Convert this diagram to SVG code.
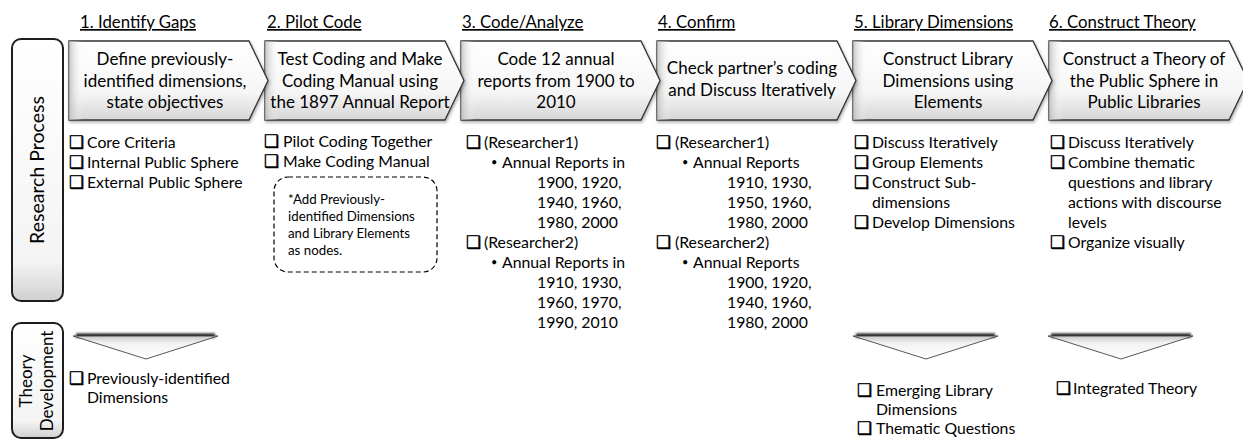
<svg xmlns="http://www.w3.org/2000/svg" xmlns:xlink="http://www.w3.org/1999/xlink" width="1243" height="440" viewBox="0 0 1243 440">
<style>
text{font-family:Lato,"Liberation Sans",sans-serif;fill:#000}
.hd{font-size:16.8px;text-decoration:underline}
.ch{font-size:17px;text-anchor:middle}
.li{font-size:15.8px}
.bu{font-size:11px}
.nt{font-size:13.3px}
.cb{font-family:"DejaVu Sans",sans-serif;font-size:17px;stroke:#000;stroke-width:0.5}
.lb{font-size:19.5px;text-anchor:middle}
.lb2{font-size:17px;text-anchor:middle}
.chv{fill:url(#gV);stroke:#333;stroke-width:1.3;filter:url(#sh)}
.chl{fill:url(#gL);stroke:none}
.tri{fill:url(#gT);stroke:#444;stroke-width:0.9}
.box{fill:url(#gB);stroke:#1e1e1e;stroke-width:2}
</style>
<defs>
<linearGradient id="gV" x1="0" y1="0" x2="0" y2="1">
<stop offset="0" stop-color="#ffffff"/><stop offset="0.65" stop-color="#f6f6f6"/><stop offset="1" stop-color="#d6d6d6"/>
</linearGradient>
<linearGradient id="gL" x1="0" y1="0" x2="1" y2="0">
<stop offset="0" stop-color="#b8b8b8" stop-opacity="0.8"/><stop offset="0.07" stop-color="#ffffff" stop-opacity="0"/>
</linearGradient>
<linearGradient id="gT" x1="0" y1="0" x2="0" y2="1">
<stop offset="0" stop-color="#c8c8c8"/><stop offset="0.3" stop-color="#f2f2f2"/><stop offset="1" stop-color="#ffffff"/>
</linearGradient>
<linearGradient id="gB" x1="0" y1="0" x2="0" y2="1">
<stop offset="0" stop-color="#ffffff"/><stop offset="0.85" stop-color="#f4f4f4"/><stop offset="1" stop-color="#d0d0d0"/>
</linearGradient>
<filter id="sh" x="-5%" y="-10%" width="115%" height="130%">
<feDropShadow dx="1" dy="2" stdDeviation="1.5" flood-color="#000" flood-opacity="0.3"/>
</filter>
<filter id="bl" x="-10%" y="-100%" width="120%" height="300%">
<feGaussianBlur stdDeviation="1.3"/>
</filter>
<path id="chev" d="M0,0 H180 L199,39.5 L180,79 H0 Z"/>
<path id="triS" d="M0,0 H145 L73,23 Z"/>
</defs>

<g id="label-research-process">
<rect class="box" x="12" y="39" width="51" height="262" rx="9"/>
<text class="lb" transform="translate(44,170) rotate(-90)">Research Process</text>
</g>
<g id="label-theory-development">
<rect class="box" x="12" y="323" width="51" height="115" rx="9"/>
<text class="lb2" transform="translate(32,381) rotate(-90)">Theory</text>
<text class="lb2" transform="translate(53,381) rotate(-90)">Development</text>
</g>

<g id="step6">
<text class="hd" x="1049" y="28">6. Construct Theory</text>
<use href="#chev" class="chv" x="1049" y="41"/>
<use href="#chev" class="chl" x="1049" y="41"/>
<text class="ch" x="1144" y="65">Construct a Theory of</text>
<text class="ch" x="1144" y="86.5">the Public Sphere in</text>
<text class="ch" x="1144" y="108">Public Libraries</text>
<text class="cb" x="1050" y="148">❑</text><text class="li" x="1068" y="148">Discuss Iteratively</text>
<text class="cb" x="1050" y="168">❑</text><text class="li" x="1068" y="168">Combine thematic</text>
<text class="li" x="1068" y="188">questions and library</text>
<text class="li" x="1068" y="208">actions with discourse</text>
<text class="li" x="1068" y="228">levels</text>
<text class="cb" x="1050" y="248">❑</text><text class="li" x="1068" y="248">Organize visually</text>
</g>

<g id="step5">
<text class="hd" x="854" y="28">5. Library Dimensions</text>
<use href="#chev" class="chv" x="853" y="41"/>
<use href="#chev" class="chl" x="853" y="41"/>
<text class="ch" x="948" y="65">Construct Library</text>
<text class="ch" x="948" y="86.5">Dimensions using</text>
<text class="ch" x="948" y="108">Elements</text>
<text class="cb" x="854" y="148">❑</text><text class="li" x="872" y="148">Discuss Iteratively</text>
<text class="cb" x="854" y="168">❑</text><text class="li" x="872" y="168">Group Elements</text>
<text class="cb" x="854" y="188">❑</text><text class="li" x="872" y="188">Construct Sub-</text>
<text class="li" x="872" y="208">dimensions</text>
<text class="cb" x="854" y="228">❑</text><text class="li" x="872" y="228">Develop Dimensions</text>
</g>

<g id="step4">
<text class="hd" x="658" y="28">4. Confirm</text>
<use href="#chev" class="chv" x="657" y="41"/>
<use href="#chev" class="chl" x="657" y="41"/>
<text class="ch" x="752" y="74">Check partner’s coding</text>
<text class="ch" x="752" y="96">and Discuss Iteratively</text>
<text class="cb" x="656" y="148">❑</text><text class="li" x="675" y="148">(Researcher1)</text>
<text class="bu" x="682" y="166">•</text><text class="li" x="693" y="168">Annual Reports</text>
<text class="li" x="727" y="188">1910, 1930,</text>
<text class="li" x="727" y="208">1950, 1960,</text>
<text class="li" x="727" y="228">1980, 2000</text>
<text class="cb" x="656" y="248">❑</text><text class="li" x="675" y="248">(Researcher2)</text>
<text class="bu" x="682" y="266">•</text><text class="li" x="693" y="268">Annual Reports</text>
<text class="li" x="727" y="288">1900, 1920,</text>
<text class="li" x="727" y="308">1940, 1960,</text>
<text class="li" x="727" y="328">1980, 2000</text>
</g>

<g id="step3">
<text class="hd" x="462" y="28">3. Code/Analyze</text>
<use href="#chev" class="chv" x="461" y="41"/>
<use href="#chev" class="chl" x="461" y="41"/>
<text class="ch" x="556" y="65">Code 12 annual</text>
<text class="ch" x="556" y="86.5">reports from 1900 to</text>
<text class="ch" x="556" y="108">2010</text>
<text class="cb" x="466" y="148">❑</text><text class="li" x="484" y="148">(Researcher1)</text>
<text class="bu" x="491" y="166">•</text><text class="li" x="502" y="168">Annual Reports in</text>
<text class="li" x="537" y="188">1900, 1920,</text>
<text class="li" x="537" y="208">1940, 1960,</text>
<text class="li" x="537" y="228">1980, 2000</text>
<text class="cb" x="466" y="248">❑</text><text class="li" x="484" y="248">(Researcher2)</text>
<text class="bu" x="491" y="266">•</text><text class="li" x="502" y="268">Annual Reports in</text>
<text class="li" x="537" y="288">1910, 1930,</text>
<text class="li" x="537" y="308">1960, 1970,</text>
<text class="li" x="537" y="328">1990, 2010</text>
</g>

<g id="step2">
<text class="hd" x="267" y="28">2. Pilot Code</text>
<use href="#chev" class="chv" x="265" y="41"/>
<use href="#chev" class="chl" x="265" y="41"/>
<text class="ch" x="360" y="65">Test Coding and Make</text>
<text class="ch" x="360" y="86.5">Coding Manual using</text>
<text class="ch" x="360" y="108">the 1897 Annual Report</text>
<text class="cb" x="264" y="147">❑</text><text class="li" x="283" y="147">Pilot Coding Together</text>
<text class="cb" x="264" y="167">❑</text><text class="li" x="283" y="167">Make Coding Manual</text>
<rect x="274" y="177" width="163" height="95" rx="14" fill="none" stroke="#000" stroke-width="1.2" stroke-dasharray="5,3"/>
<text class="nt" x="288" y="204">*Add Previously-</text>
<text class="nt" x="288" y="221">identified Dimensions</text>
<text class="nt" x="288" y="238">and Library Elements</text>
<text class="nt" x="288" y="255">as nodes.</text>
</g>

<g id="step1">
<text class="hd" x="80" y="28">1. Identify Gaps</text>
<use href="#chev" class="chv" x="69" y="41"/>
<use href="#chev" class="chl" x="69" y="41"/>
<text class="ch" x="165" y="65">Define previously-</text>
<text class="ch" x="165" y="86.5">identified dimensions,</text>
<text class="ch" x="165" y="108">state objectives</text>
<text class="cb" x="69" y="148">❑</text><text class="li" x="87" y="148">Core Criteria</text>
<text class="cb" x="69" y="168">❑</text><text class="li" x="87" y="168">Internal Public Sphere</text>
<text class="cb" x="69" y="188">❑</text><text class="li" x="87" y="188">External Public Sphere</text>
</g>

<g id="theory1">
<rect x="76" y="333.5" width="139" height="4" fill="#1a1a1a" filter="url(#bl)"/>
<use href="#triS" class="tri" x="73" y="336"/>
<text class="cb" x="69" y="384">❑</text><text class="li" x="87" y="384">Previously-identified</text>
<text class="li" x="87" y="403">Dimensions</text>
</g>
<g id="theory5">
<rect x="856" y="333.5" width="139" height="4" fill="#1a1a1a" filter="url(#bl)"/>
<use href="#triS" class="tri" x="853" y="336"/>
<text class="cb" x="857" y="396">❑</text><text class="li" x="876" y="396">Emerging Library</text>
<text class="li" x="876" y="415">Dimensions</text>
<text class="cb" x="857" y="434">❑</text><text class="li" x="876" y="434">Thematic Questions</text>
</g>
<g id="theory6">
<rect x="1051" y="333.5" width="140" height="4" fill="#1a1a1a" filter="url(#bl)"/>
<use href="#triS" class="tri" x="1048" y="336"/>
<text class="cb" x="1056" y="394">❑</text><text class="li" x="1073" y="394">Integrated Theory</text>
</g>
<g id="connectors"></g>
</svg>
